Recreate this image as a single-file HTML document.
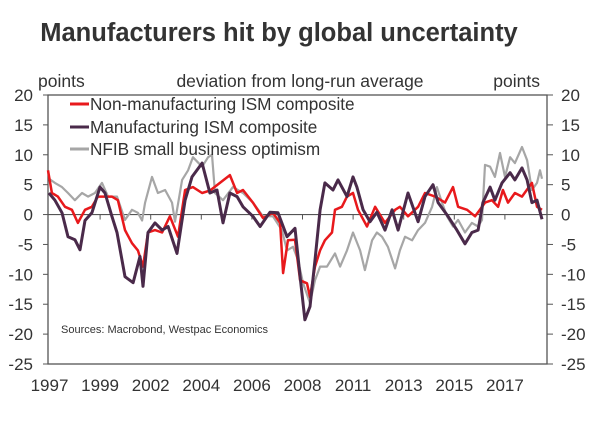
<!DOCTYPE html>
<html><head><meta charset="utf-8"><style>
body{margin:0;background:#fff;width:600px;height:418px;overflow:hidden;font-family:"Liberation Sans",sans-serif;}
svg text{font-family:"Liberation Sans",sans-serif;fill:#333;}
</style></head><body>
<svg id="chart" width="600" height="418" viewBox="0 0 600 418" xmlns="http://www.w3.org/2000/svg">
<rect width="600" height="418" fill="#fff"/>
<text x="279" y="41" text-anchor="middle" font-size="25.5" font-weight="bold" style="fill:#333">Manufacturers hit by global uncertainty</text>
<text x="38" y="87" font-size="17.5">points</text>
<text x="300" y="87" text-anchor="middle" font-size="17.5">deviation from long-run average</text>
<text x="540" y="87" text-anchor="end" font-size="17.5">points</text>
<g id="axes"></g>
<g id="series"></g>
<g>
<line x1="70" y1="104" x2="89" y2="104" stroke="#e8191c" stroke-width="3"/>
<text x="90" y="110" font-size="17.2">Non-manufacturing ISM composite</text>
<line x1="70" y1="127" x2="89" y2="127" stroke="#4a2a4a" stroke-width="3"/>
<text x="90" y="133" font-size="17.2">Manufacturing ISM composite</text>
<line x1="70" y1="149" x2="89" y2="149" stroke="#a6a6a6" stroke-width="3"/>
<text x="90" y="155" font-size="17.2">NFIB small business optimism</text>
</g>
<text x="61" y="333" font-size="11">Sources: Macrobond, Westpac Economics</text>
</svg>
<script>
const yTicks=[20,15,10,5,0,-5,-10,-15,-20,-25];
const xTickLabels=["1997","1999","2002","2004","2006","2008","2011","2013","2015","2017"];
const mfgDates=[1997.04,1997.30,1997.61,1997.87,1998.17,1998.39,1998.61,1998.91,1999.26,1999.48,1999.78,2000.0,2000.35,2000.70,2001.0,2001.13,2001.35,2001.65,2001.96,2002.22,2002.61,2002.96,2003.26,2003.70,2004.04,2004.35,2004.61,2004.91,2005.22,2005.48,2005.91,2006.22,2006.65,2007.0,2007.39,2007.74,2007.96,2008.17,2008.39,2008.61,2008.83,2009.04,2009.39,2009.61,2010.0,2010.26,2010.43,2010.70,2011.0,2011.30,2011.65,2011.96,2012.22,2012.65,2013.09,2013.39,2013.74,2013.96,2014.39,2014.78,2015.13,2015.43,2015.70,2015.91,2016.22,2016.43,2016.74,2017.09,2017.30,2017.61,2017.83,2018.04,2018.26,2018.48];
const mfgValues=[3.6,2.4,0.3,-3.7,-4.2,-5.9,-1,0.3,4.6,3.6,-0.3,-3,-10.4,-11.4,-7,-12,-3,-1.4,-2.6,-2,-6.5,2.4,6.3,8.6,3.6,4.1,-1.4,3.6,3,1.3,-0.3,-2,0.4,0.3,-3.7,-2.3,-10.4,-17.6,-15.4,-7.6,0.8,5.3,4.1,5.8,3,6.3,4.6,0.8,-1.2,0.4,-2.6,0.8,-2.6,3.6,-1.2,3,5,2,-0.3,-2.6,-4.9,-3,-2.6,2,4.6,2.4,5.3,7,5.8,7.8,5.8,2,2.4,-0.8];
const nonMfgDates=[1997.0,1997.17,1997.43,1997.74,1998.04,1998.30,1998.61,1998.91,1999.17,1999.48,1999.78,2000.04,2000.35,2000.65,2000.91,2001.13,2001.35,2001.65,2001.96,2002.30,2002.65,2002.96,2003.30,2003.70,2004.04,2004.91,2005.22,2005.48,2005.91,2006.35,2006.78,2007.09,2007.22,2007.43,2007.74,2007.96,2008.26,2008.39,2008.61,2008.83,2009.04,2009.35,2009.48,2009.78,2010.0,2010.26,2010.48,2010.87,2011.22,2011.65,2012.09,2012.30,2012.65,2013.09,2013.39,2013.83,2014.26,2014.61,2014.83,2015.22,2015.57,2015.78,2016.0,2016.30,2016.57,2016.78,2017.0,2017.30,2017.61,2018.04,2018.26,2018.48];
const nonMfgValues=[7.4,3.6,3,1.3,0.8,-1.4,0.8,1.3,3,3,3,2.4,-2.6,-4.8,-6,-8.7,-3,-2.6,-3,-0.3,-3.7,4.1,4.6,3.6,4,6.6,3.6,4.1,2,-0.6,0.3,-1.4,-9.8,-4.3,-4.2,-11,-11.5,-13.8,-8.7,-6,-4.3,-3,0.8,1.3,3,3.6,0.8,-2,1.3,-1.4,0.8,1.3,-0.3,1.3,3.6,3,2,4.6,1.3,0.8,-0.3,0.8,2,2.4,1.3,4.1,2,3.6,3,5.3,1.3,0.8];
const nfibDates=[1997.04,1997.30,1997.61,1997.87,1998.17,1998.48,1998.74,1999.04,1999.35,1999.61,2000.0,2000.35,2000.65,2000.91,2001.09,2001.22,2001.52,2001.78,2002.09,2002.39,2002.52,2002.83,2003.09,2003.30,2003.70,2003.96,2004.13,2004.26,2004.61,2005.04,2005.48,2005.91,2006.35,2006.78,2007.17,2007.39,2007.65,2007.87,2008.09,2008.39,2008.61,2008.83,2009.13,2009.48,2009.70,2010.0,2010.26,2010.57,2010.78,2011.09,2011.30,2011.52,2011.78,2012.09,2012.30,2012.52,2012.83,2013.09,2013.39,2013.70,2013.91,2014.13,2014.35,2014.61,2014.83,2015.13,2015.43,2015.70,2015.87,2016.0,2016.22,2016.43,2016.65,2016.87,2017.09,2017.30,2017.61,2017.83,2018.04,2018.26,2018.39,2018.48];
const nfibValues=[6,5.3,4.6,3.6,2.4,3.6,3,3.6,5.3,3,3,-0.9,0.8,0.3,-1,2,6.3,3.6,4.1,2,-1.2,5.8,7.4,9.6,8,9.6,10,3.6,2.4,4.6,3.6,2,-0.3,-0.3,-2.6,-6,-5.4,-7.6,-11.5,-14.8,-11,-8.7,-8.7,-6.5,-8.7,-6,-3,-6,-9.3,-4.3,-3,-3.7,-5.4,-9,-6,-3.7,-4.3,-2.6,-1.4,1.3,4.6,2,-0.3,-2,-0.9,-3,-1.4,-2,-0.9,8.3,8,6.3,10.3,6.3,9.6,8.6,11.3,9.1,4.1,5.3,7.4,6];

const L=48,R=547,T=95,B=364;
const xScale=t=>L+(t-1997)*23;
const yScale=v=>T+(20-v)*(B-T)/45;
const NS="http://www.w3.org/2000/svg";
function mk(tag,attrs,parent){const e=document.createElementNS(NS,tag);for(const k in attrs)e.setAttribute(k,attrs[k]);parent.appendChild(e);return e;}
const axes=document.getElementById('axes');
const frame=mk('rect',{x:L,y:T,width:R-L,height:B-T,fill:'none',stroke:'#555','stroke-width':1.3},axes);


const zl=mk('line',{x1:L,x2:R,y1:yScale(0),y2:yScale(0),stroke:'#555','stroke-width':1.2},axes);


yTicks.forEach(v=>{
  const y=yScale(v);
  const t1=mk('line',{x1:L-5,x2:L,y1:y,y2:y,stroke:'#555'},axes);
  
  
  const t2=mk('line',{x1:R,x2:R+6,y1:y,y2:y,stroke:'#555'},axes);
  
  
  const a=mk('text',{x:33,y:y+6,'text-anchor':'end','font-size':17},axes);a.textContent=v;
  
  
  const b=mk('text',{x:561,y:y+6,'font-size':17},axes);b.textContent=v;
  
  
});
xTickLabels.forEach((lab,i)=>{
  const t=1997+i*2.2;const x=xScale(t)+1.5;
  if(i>0){const tk=mk('line',{x1:x,x2:x,y1:yScale(0),y2:yScale(0)+5,stroke:'#555'},axes);
  
  }
  const tx=mk('text',{x:x,y:391,'text-anchor':'middle','font-size':17},axes);tx.textContent=lab;
  
  
});
const sg=document.getElementById('series');
function line(dates,vals,color,w,name){
  const d=dates.map((t,i)=>(i?'L':'M')+xScale(t).toFixed(1)+','+yScale(vals[i]).toFixed(1)).join('');
  const p=mk('path',{d:d,fill:'none',stroke:color,'stroke-width':w,'stroke-linejoin':'round'},sg);
  
  
}
line(nfibDates,nfibValues,'#a6a6a6',2.2,'nfib-line');
line(nonMfgDates,nonMfgValues,'#e8191c',2.5,'non-manufacturing-ism-line');
line(mfgDates,mfgValues,'#4a2a4a',3,'manufacturing-ism-line');
</script>
</body></html>
